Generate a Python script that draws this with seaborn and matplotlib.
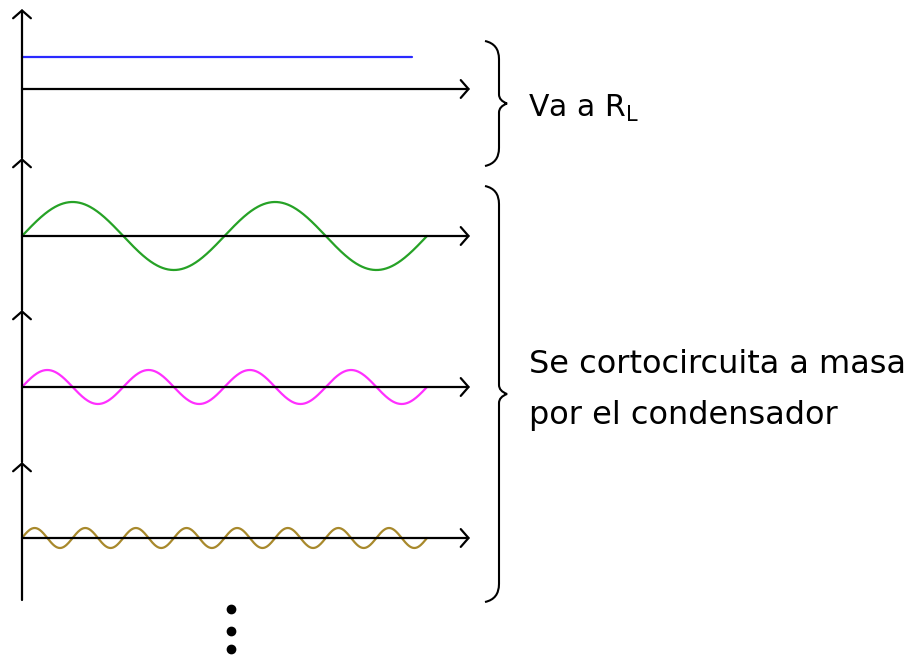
import numpy as np
import pandas as pd
import seaborn as sns
import matplotlib.pyplot as plt
from matplotlib.path import Path
from matplotlib.patches import PathPatch

# componentes de la señal rectificada y filtrada
componentes = ["DC", "f0", "2f0", "4f0"]
nivel_dc = [32, 0, 0, 0]
amplitud = [0, 34, 17, 10]
ciclos = [0, 2, 4, 8]
colores = ["#2a2aff", "#26a226", "#ff30ff", "#a8892c"]

texto_rl = r"Va a R$_\mathrm{L}$"
texto_masa = "Se cortocircuita a masa\npor el condensador"

sns.set_style("white")
plt.rcParams["mathtext.default"] = "regular"
plt.rcParams["font.family"] = ["DejaVu Sans"]
plt.rcParams["text.color"] = "black"

fig = plt.figure(figsize=(9.17, 6.56), dpi=100)
ax = fig.add_axes([0, 0, 1, 1])
ax.set_xlim(0, 917)
ax.set_ylim(656, 0)
ax.axis("off")

x0 = 22
bases = [89, 236, 387, 538]
largos = [390, 405, 405, 405]

rows = []
t = np.linspace(0, 1, 600)
for c, dc, a, n, b, L in zip(componentes, nivel_dc, amplitud, ciclos, bases, largos):
    y = b - (dc + a * np.sin(2 * np.pi * n * t))
    rows.append(pd.DataFrame({"x": x0 + L * t, "y": y, "comp": c}))
df = pd.concat(rows, ignore_index=True)

sns.lineplot(data=df, x="x", y="y", hue="comp", palette=colores, sort=False,
             linewidth=1.6, legend=False, ax=ax, zorder=3)

# ejes con flechas
flecha = dict(arrowstyle="->,head_length=0.35,head_width=0.4", color="black",
              lw=1.6, shrinkA=0, shrinkB=0, mutation_scale=16)
for b in bases:
    ax.annotate("", xy=(470, b), xytext=(x0, b), arrowprops=flecha)
tramos = [600, 462, 310, 158, 9]
for y_ini, y_fin in zip(tramos[:-1], tramos[1:]):
    ax.annotate("", xy=(x0, y_fin), xytext=(x0, y_ini), arrowprops=flecha)


def llave(ax, x, y_top, y_bot):
    y_mid = (y_top + y_bot) / 2
    verts = [
        (x - 14, y_top), (x, y_top + 3), (x, y_top + 18),
        (x, y_mid - 9), (x, y_mid - 3), (x + 8, y_mid),
        (x, y_mid + 3), (x, y_mid + 9),
        (x, y_bot - 18), (x, y_bot - 3), (x - 14, y_bot),
    ]
    codes = [Path.MOVETO, Path.CURVE3, Path.CURVE3,
             Path.LINETO, Path.CURVE3, Path.CURVE3,
             Path.CURVE3, Path.CURVE3,
             Path.LINETO, Path.CURVE3, Path.CURVE3]
    ax.add_patch(PathPatch(Path(verts, codes), fill=False, lw=1.5, color="black"))


llave(ax, 499, 41, 166)
llave(ax, 499, 186, 602)

ax.text(528, 117, texto_rl, fontsize=21.5, va="baseline", ha="left")
ax.text(529, 424, texto_masa, fontsize=23, va="baseline", ha="left",
        linespacing=1.85)

# puntos suspensivos verticales
ax.scatter([231, 231, 231], [609, 631, 649], s=36, color="black", zorder=4)

fig.savefig("out.png", dpi=100)
